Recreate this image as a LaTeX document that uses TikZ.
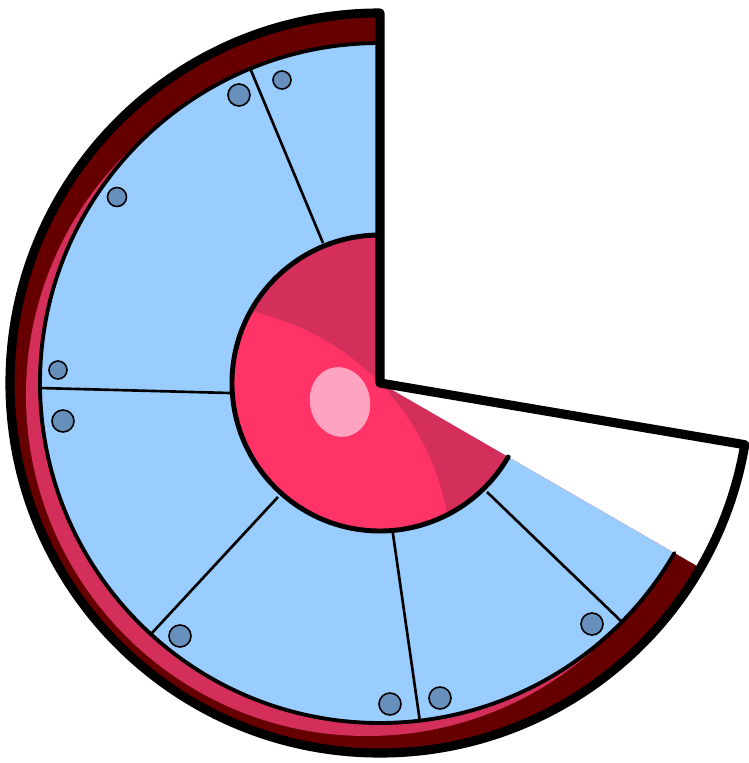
\documentclass[tikz,border=0pt]{standalone}
\usepackage{tikz}
\usetikzlibrary{positioning}

\definecolor{rimred}{HTML}{660000}
\definecolor{rimpink}{HTML}{D42E5A}
\definecolor{wheelblue}{HTML}{99CCFF}
\definecolor{hubdark}{HTML}{D42E5A}
\definecolor{hubbright}{HTML}{FF3366}
\definecolor{hubshine}{HTML}{FFA3C2}
\definecolor{boltblue}{HTML}{6690BB}

\begin{document}
\begin{tikzpicture}[x=0.01cm,y=0.01cm,
    spoke/.style={draw=black, line width=0.75pt},
    bolt/.style={fill=boltblue, draw=black, line width=0.45pt},
    outline/.style={draw=black, line width=2.6pt, line join=round}]

\useasboundingbox (-380,-380) rectangle (369,383);

% rim
\fill[rimred] (90:370) arc[start angle=90, end angle=330, radius=370]
    -- (330:340) arc[start angle=330, end angle=90, radius=340] -- cycle;
\begin{scope}
  \clip (0,0) -- (90:370) arc[start angle=90, end angle=330, radius=370] -- cycle;
  \fill[rimpink] (-13,-12) circle (341);
\end{scope}

% blue wheel
\fill[wheelblue] (0,0) -- (90:340) arc[start angle=90, end angle=330, radius=340] -- cycle;

\draw[spoke] (-57,140) -- (-130,315);
\draw[spoke] (-150,-10) -- (-340,-5);
\draw[spoke] (-102,-114) -- (-228,-250);
\draw[spoke] (12,-144) -- (40,-339);
\draw[spoke] (107,-109) -- (243,-240);

\filldraw[bolt] (-98,303) circle (9);
\filldraw[bolt] (-141,288) circle (11);
\filldraw[bolt] (-263,186) circle (9.5);
\filldraw[bolt] (-322,13) circle (9);
\filldraw[bolt] (-317,-38) circle (11);
\filldraw[bolt] (-200,-253) circle (11);
\filldraw[bolt] (10,-321) circle (11);
\filldraw[bolt] (60,-315) circle (11);
\filldraw[bolt] (212,-241) circle (11);

\draw[line width=1.1pt, line cap=round] (90:340) arc[start angle=90, end angle=330, radius=340];

% hub
\fill[hubdark] (0,0) -- (90:148) arc[start angle=90, end angle=330, radius=148] -- cycle;
\begin{scope}
  \clip (0,0) -- (90:148) arc[start angle=90, end angle=330, radius=148] -- cycle;
  \fill[hubbright] (-182,-176) circle (253);
\end{scope}
\fill[hubshine, rotate around={12:(-40,-19)}] (-40,-19) ellipse (30 and 35);
\draw[line width=1.4pt, line cap=round] (90:148) arc[start angle=90, end angle=330, radius=148];

% outer outline
\draw[outline] (0,0) -- (90:370) arc[start angle=90, end angle=350.4, radius=370] -- cycle;

\end{tikzpicture}
\end{document}
